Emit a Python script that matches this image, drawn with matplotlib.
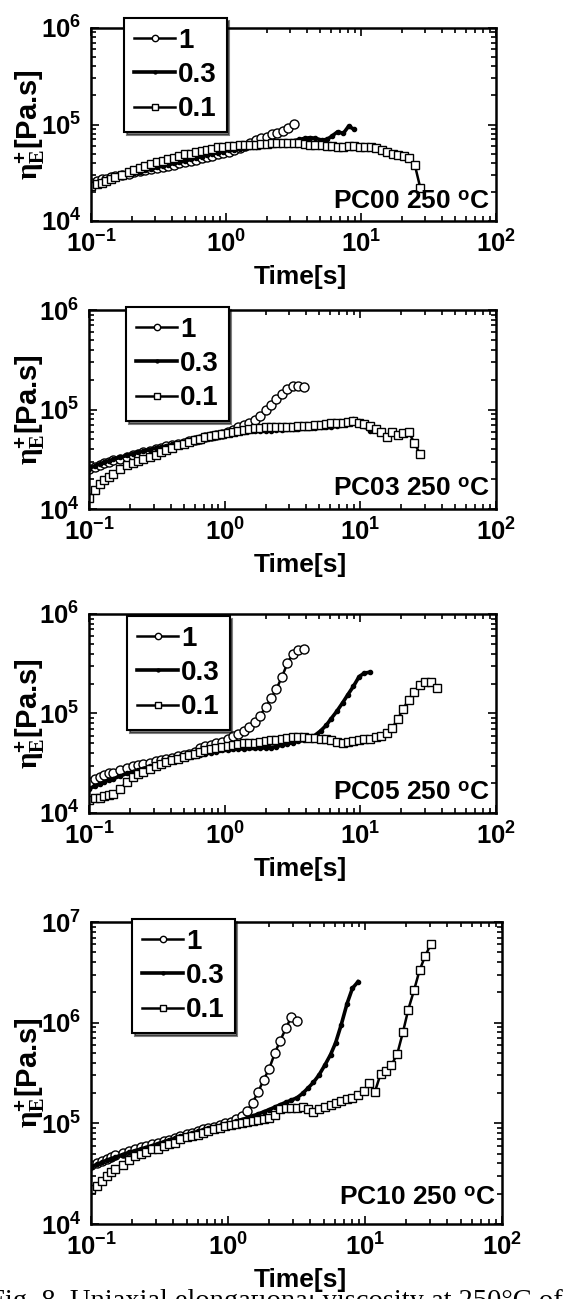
import numpy as np
import matplotlib
matplotlib.use("Agg")
import matplotlib.pyplot as plt
from matplotlib.ticker import LogLocator, FuncFormatter, NullFormatter

plt.rcParams['font.family'] = ['Liberation Sans', 'DejaVu Sans']
plt.rcParams['font.weight'] = 'bold'
plt.rcParams['mathtext.fontset'] = 'custom'
plt.rcParams['mathtext.rm'] = 'Liberation Serif'
plt.rcParams['mathtext.it'] = 'Liberation Serif:italic'
plt.rcParams['mathtext.bf'] = 'Liberation Sans:bold'

# time points [s] (shared by all runs, each run stops earlier or later)
t_grid = [0.10, 0.11, 0.12, 0.13, 0.14, 0.15, 0.17, 0.19, 0.21, 0.23,
          0.25, 0.28, 0.31, 0.34, 0.37, 0.41, 0.45, 0.50, 0.55, 0.60,
          0.66, 0.72, 0.79, 0.87, 0.95, 1.05, 1.15, 1.26, 1.38, 1.51,
          1.66, 1.82, 2.0, 2.2, 2.4, 2.65, 2.9, 3.2, 3.5, 3.85,
          4.2, 4.6, 5.1, 5.6, 6.1, 6.7, 7.4, 8.1, 8.9, 9.8,
          10.7, 11.8, 13.0, 14.2, 15.6, 17.2, 18.9, 20.7, 22.8, 25.0,
          27.5, 30.2, 33.2, 36.5]

rates = ["1", "0.3", "0.1"]

# PC00
pc00_r1 = [2.5e4, 2.6e4, 2.7e4, 2.75e4, 2.85e4, 2.9e4, 3.0e4, 3.1e4, 3.2e4, 3.3e4,
           3.35e4, 3.45e4, 3.55e4, 3.65e4, 3.75e4, 3.85e4, 3.95e4, 4.05e4, 4.2e4, 4.3e4,
           4.45e4, 4.6e4, 4.75e4, 4.9e4, 5.05e4, 5.25e4, 5.5e4, 5.7e4, 6.0e4, 6.4e4,
           6.9e4, 7.2e4, 7.5e4, 7.9e4, 8.2e4, 8.6e4, 9.1e4, 1.02e5]
pc00_r03 = [2.3e4, 2.45e4, 2.55e4, 2.65e4, 2.75e4, 2.8e4, 2.95e4, 3.05e4, 3.15e4, 3.25e4,
            3.35e4, 3.45e4, 3.6e4, 3.7e4, 3.8e4, 3.95e4, 4.05e4, 4.2e4, 4.35e4, 4.5e4,
            4.65e4, 4.8e4, 4.95e4, 5.1e4, 5.25e4, 5.4e4, 5.5e4, 5.6e4, 5.7e4, 5.8e4,
            5.9e4, 6.0e4, 6.1e4, 6.2e4, 6.35e4, 6.5e4, 6.65e4, 6.8e4, 7.0e4, 7.2e4,
            7.3e4, 7.2e4, 6.9e4, 7.0e4, 7.6e4, 8.4e4, 8.1e4, 9.6e4, 8.9e4]
pc00_r01 = [2.3e4, 2.4e4, 2.5e4, 2.6e4, 2.75e4, 2.85e4, 3.0e4, 3.2e4, 3.35e4, 3.5e4,
            3.7e4, 3.9e4, 4.05e4, 4.2e4, 4.35e4, 4.5e4, 4.7e4, 4.9e4, 5.0e4, 5.2e4,
            5.35e4, 5.5e4, 5.6e4, 5.8e4, 5.9e4, 6.0e4, 6.05e4, 6.1e4, 6.15e4, 6.2e4,
            6.2e4, 6.25e4, 6.3e4, 6.4e4, 6.4e4, 6.4e4, 6.4e4, 6.4e4, 6.4e4, 6.3e4,
            6.2e4, 6.2e4, 6.15e4, 6.05e4, 6.0e4, 5.9e4, 5.85e4, 5.95e4, 5.95e4, 5.9e4,
            5.85e4, 5.8e4, 5.65e4, 5.45e4, 5.2e4, 5.0e4, 4.85e4, 4.7e4, 4.55e4, 3.85e4,
            2.2e4]

# PC03
pc03_r1 = [2.5e4, 2.65e4, 2.8e4, 2.9e4, 3.0e4, 3.1e4, 3.2e4, 3.35e4, 3.5e4, 3.6e4,
           3.7e4, 3.85e4, 4.0e4, 4.1e4, 4.25e4, 4.4e4, 4.5e4, 4.65e4, 4.8e4, 4.95e4,
           5.1e4, 5.25e4, 5.4e4, 5.55e4, 5.7e4, 5.9e4, 6.2e4, 6.6e4, 7.0e4, 7.4e4,
           7.9e4, 8.6e4, 9.8e4, 1.12e5, 1.27e5, 1.42e5, 1.6e5, 1.74e5, 1.71e5, 1.68e5]
pc03_r03 = [2.55e4, 2.7e4, 2.85e4, 2.95e4, 3.05e4, 3.15e4, 3.3e4, 3.45e4, 3.6e4, 3.7e4,
            3.8e4, 3.95e4, 4.1e4, 4.2e4, 4.3e4, 4.45e4, 4.55e4, 4.7e4, 4.85e4, 4.95e4,
            5.1e4, 5.25e4, 5.4e4, 5.55e4, 5.7e4, 5.8e4, 5.9e4, 5.95e4, 6.0e4, 6.05e4,
            6.05e4, 6.1e4, 6.1e4, 6.15e4, 6.2e4, 6.25e4, 6.3e4, 6.35e4, 6.4e4, 6.45e4,
            6.5e4, 6.55e4, 6.6e4, 6.6e4, 6.65e4, 6.8e4, 7.1e4, 7.6e4, 8.0e4, 7.6e4,
            6.8e4, 6.1e4]
pc03_r01 = [1.3e4, 1.55e4, 1.8e4, 1.95e4, 2.1e4, 2.25e4, 2.5e4, 2.75e4, 2.9e4, 3.05e4,
            3.15e4, 3.3e4, 3.5e4, 3.7e4, 3.9e4, 4.1e4, 4.35e4, 4.55e4, 4.75e4, 4.95e4,
            5.1e4, 5.3e4, 5.45e4, 5.6e4, 5.7e4, 5.85e4, 6.0e4, 6.15e4, 6.25e4, 6.35e4,
            6.45e4, 6.55e4, 6.6e4, 6.65e4, 6.7e4, 6.7e4, 6.7e4, 6.7e4, 6.75e4, 6.8e4,
            6.85e4, 6.95e4, 7.05e4, 7.15e4, 7.25e4, 7.3e4, 7.35e4, 7.45e4, 7.65e4, 7.4e4,
            7.1e4, 6.8e4, 6.4e4, 5.95e4, 5.35e4, 6.0e4, 5.6e4, 5.75e4, 5.9e4, 4.6e4,
            3.6e4]

# PC05
pc05_r1 = [2.05e4, 2.2e4, 2.3e4, 2.4e4, 2.5e4, 2.55e4, 2.7e4, 2.85e4, 2.95e4, 3.05e4,
           3.1e4, 3.2e4, 3.3e4, 3.4e4, 3.5e4, 3.6e4, 3.7e4, 3.8e4, 3.9e4, 4.1e4,
           4.5e4, 4.7e4, 4.8e4, 5.0e4, 5.2e4, 5.5e4, 5.9e4, 6.2e4, 6.6e4, 7.3e4,
           8.2e4, 9.5e4, 1.15e5, 1.42e5, 1.75e5, 2.35e5, 3.2e5, 4.0e5, 4.3e5, 4.45e5]
pc05_r03 = [1.75e4, 1.85e4, 1.95e4, 2.05e4, 2.15e4, 2.2e4, 2.35e4, 2.5e4, 2.6e4, 2.7e4,
            2.8e4, 2.95e4, 3.05e4, 3.15e4, 3.25e4, 3.35e4, 3.45e4, 3.55e4, 3.65e4, 3.75e4,
            3.85e4, 3.95e4, 4.05e4, 4.15e4, 4.25e4, 4.3e4, 4.35e4, 4.4e4, 4.4e4, 4.45e4,
            4.45e4, 4.5e4, 4.5e4, 4.55e4, 4.65e4, 4.8e4, 4.95e4, 5.1e4, 5.25e4, 5.4e4,
            5.6e4, 6.0e4, 6.7e4, 7.6e4, 8.9e4, 1.05e5, 1.28e5, 1.55e5, 1.88e5, 2.35e5,
            2.55e5, 2.6e5]
pc05_r01 = [1.35e4, 1.4e4, 1.43e4, 1.48e4, 1.52e4, 1.57e4, 1.75e4, 2.05e4, 2.3e4, 2.45e4,
            2.6e4, 2.8e4, 2.95e4, 3.1e4, 3.25e4, 3.4e4, 3.5e4, 3.65e4, 3.8e4, 3.95e4,
            4.1e4, 4.25e4, 4.35e4, 4.5e4, 4.65e4, 4.75e4, 4.85e4, 4.9e4, 5.0e4, 5.05e4,
            5.1e4, 5.2e4, 5.3e4, 5.4e4, 5.45e4, 5.5e4, 5.65e4, 5.8e4, 5.75e4, 5.75e4,
            5.7e4, 5.65e4, 5.6e4, 5.5e4, 5.4e4, 5.2e4, 5.05e4, 5.15e4, 5.35e4, 5.4e4,
            5.5e4, 5.6e4, 5.8e4, 6.0e4, 6.4e4, 7.2e4, 8.8e4, 1.12e5, 1.38e5, 1.65e5,
            1.95e5, 2.07e5, 2.08e5, 1.8e5]

# PC10
pc10_r1 = [3.85e4, 4.05e4, 4.25e4, 4.45e4, 4.65e4, 4.85e4, 5.1e4, 5.35e4, 5.6e4, 5.8e4,
           5.95e4, 6.2e4, 6.45e4, 6.7e4, 6.9e4, 7.2e4, 7.5e4, 7.8e4, 8.1e4, 8.4e4,
           8.7e4, 9.0e4, 9.3e4, 9.6e4, 1.0e5, 1.04e5, 1.1e5, 1.18e5, 1.32e5, 1.6e5,
           2.05e5, 2.7e5, 3.5e5, 5.0e5, 6.6e5, 8.8e5, 1.15e6, 1.05e6]
pc10_r03 = [3.7e4, 3.9e4, 4.1e4, 4.3e4, 4.45e4, 4.6e4, 4.9e4, 5.15e4, 5.35e4, 5.55e4,
            5.75e4, 6.0e4, 6.3e4, 6.55e4, 6.8e4, 7.1e4, 7.4e4, 7.7e4, 8.0e4, 8.3e4,
            8.6e4, 8.9e4, 9.2e4, 9.5e4, 9.8e4, 1.01e5, 1.05e5, 1.09e5, 1.13e5, 1.18e5,
            1.24e5, 1.3e5, 1.37e5, 1.45e5, 1.53e5, 1.62e5, 1.7e5, 1.8e5, 1.98e5, 2.25e5,
            2.55e5, 3.0e5, 3.8e5, 4.8e5, 6.3e5, 9.5e5, 1.55e6, 2.2e6, 2.55e6]
pc10_r01 = [2.25e4, 2.4e4, 2.7e4, 3.0e4, 3.3e4, 3.5e4, 3.85e4, 4.35e4, 4.75e4, 5.0e4,
            5.2e4, 5.5e4, 5.6e4, 5.9e4, 6.3e4, 6.4e4, 7.0e4, 7.3e4, 7.5e4, 7.7e4,
            8.0e4, 8.4e4, 8.7e4, 9.0e4, 9.4e4, 9.7e4, 9.9e4, 1.0e5, 1.02e5, 1.05e5,
            1.07e5, 1.1e5, 1.14e5, 1.2e5, 1.38e5, 1.41e5, 1.41e5, 1.42e5, 1.44e5, 1.4e5,
            1.31e5, 1.38e5, 1.45e5, 1.53e5, 1.6e5, 1.66e5, 1.73e5, 1.8e5, 1.9e5, 2.1e5,
            2.5e5, 2.05e5, 3.1e5, 3.3e5, 3.8e5, 4.9e5, 8.0e5, 1.35e6, 2.1e6, 3.3e6,
            4.6e6, 6.0e6]

W, H = 566, 1299
# axes boxes in pixels: left, right, top, bottom
boxes = [(91, 496, 28, 221), (89, 496, 310, 509), (89, 496, 614, 813), (91, 502, 922, 1224)]
names = ["PC00", "PC03", "PC05", "PC10"]
ytops = [1e6, 1e6, 1e6, 1e7]
data = [(pc00_r1, pc00_r03, pc00_r01), (pc03_r1, pc03_r03, pc03_r01),
        (pc05_r1, pc05_r03, pc05_r01), (pc10_r1, pc10_r03, pc10_r01)]
leg_px = [(124, 18), (126, 307), (127, 616), (132, 919)]

fig = plt.figure(figsize=(W / 100, H / 100), dpi=100)
fmt = FuncFormatter(lambda v, pos: r'$\mathbf{10^{%d}}$' % int(round(np.log10(v))))

for i in range(4):
    l, r, tp, b = boxes[i]
    ax = fig.add_axes([l / W, 1 - b / H, (r - l) / W, (b - tp) / H])
    r1, r03, r01 = data[i]
    ax.plot(t_grid[:len(r1)], r1, '-o', color='k', lw=1.8, ms=6.5, mfc='white', mec='k', mew=1.0, label=rates[0])
    ax.plot(t_grid[:len(r03)], r03, '-o', color='k', lw=2.6, ms=3, label=rates[1])
    ax.plot(t_grid[:len(r01)], r01, '-s', color='k', lw=1.8, ms=6, mfc='white', mec='k', mew=1.0, label=rates[2])
    ax.set_xscale('log')
    ax.set_yscale('log')
    ax.set_xlim(0.1, 100)
    ax.set_ylim(1e4, ytops[i])
    for a in (ax.xaxis, ax.yaxis):
        a.set_major_locator(LogLocator(base=10, numticks=10))
        a.set_minor_locator(LogLocator(base=10, subs=range(2, 10), numticks=20))
        a.set_major_formatter(fmt)
        a.set_minor_formatter(NullFormatter())
    ax.tick_params(which='both', direction='in', top=True, right=True, width=1.2, labelsize=18.5)
    ax.tick_params(which='major', length=6, pad=7)
    ax.tick_params(which='minor', length=3.5)
    for s in ax.spines.values():
        s.set_linewidth(1.8)

    hpx = b - tp
    wpx = r - l
    ax.set_xlabel('Time[s]', fontsize=19, fontweight='bold',
                  bbox=dict(facecolor='white', edgecolor='none', pad=2))
    ax.xaxis.set_label_coords((300 - l) / wpx, -44 / hpx)
    ax.set_ylabel(r'$\mathrm{\eta}_{\mathrm{E}}^{\mathbf{+}}$[Pa.s]', fontsize=21, fontweight='bold', va='center')
    ax.yaxis.set_label_coords((30 - l) / wpx, 0.5)

    ax.text(0.985, 0.065, names[i] + r' 250 $^{\mathbf{o}}$C', transform=ax.transAxes,
            ha='right', va='baseline', fontsize=19, fontweight='bold')

    lx, ly = leg_px[i]
    leg = ax.legend(loc='upper left', bbox_to_anchor=((lx - l) / wpx, (b - ly) / hpx),
                    borderaxespad=0, fontsize=20, handlelength=1.5, handletextpad=0.1,
                    labelspacing=0.3, borderpad=0.35, markerscale=0.7, fancybox=False,
                    shadow={'color': 'black'}, framealpha=1, edgecolor='black')
    leg.get_frame().set_linewidth(1.5)

# caption of the source page, cut by the lower edge
fig.text(-0.02, -9 / H, 'Fig. 8  Uniaxial elongational viscosity at 250°C of',
         fontsize=20.5, family='Liberation Serif', fontweight='normal', zorder=-1)

fig.savefig('out.png', dpi=100)
